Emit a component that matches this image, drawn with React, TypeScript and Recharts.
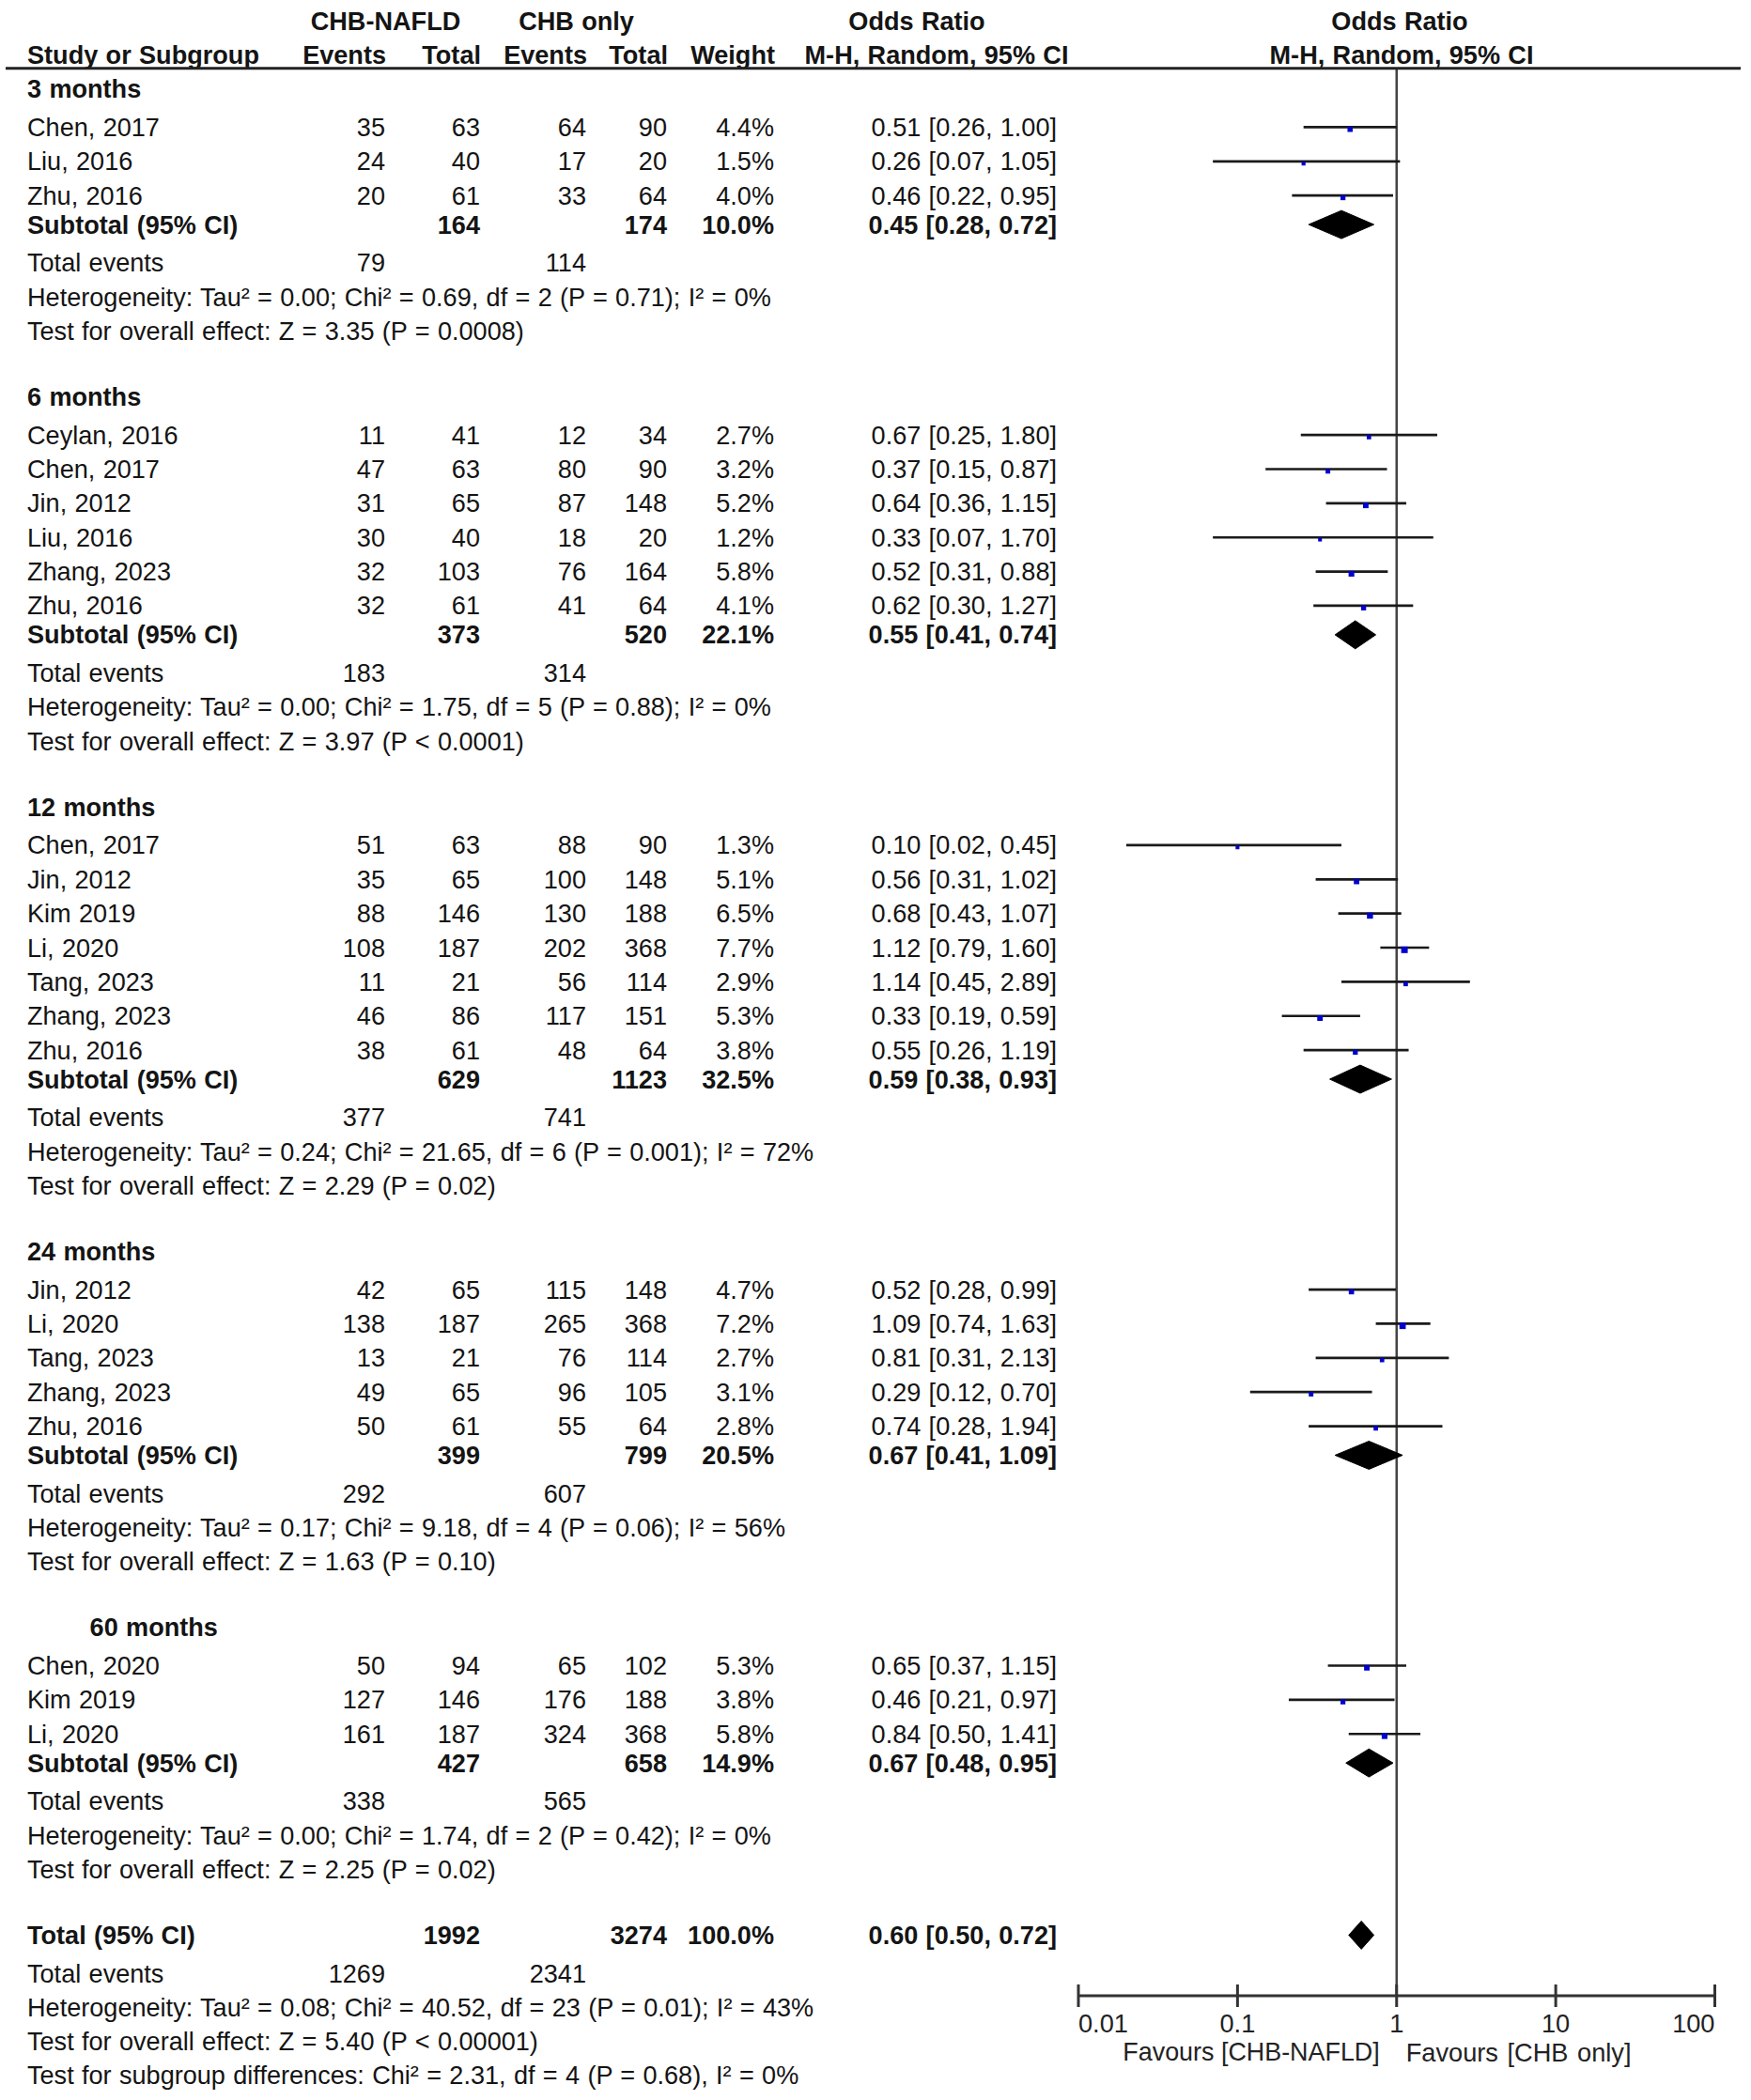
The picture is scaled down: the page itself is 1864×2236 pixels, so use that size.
import { ErrorBar, ReferenceLine, Scatter, ScatterChart, XAxis, YAxis } from "recharts";

// ── Data ─────────────────────────────────────────────────────────────────────
type Study = {
  study: string;
  e1: number;
  n1: number;
  e2: number;
  n2: number;
  w: number;
  or: number;
  lo: number;
  hi: number;
};

const groupLabels = ["3 months", "6 months", "12 months", "24 months", "        60 months"];

const studies3: Study[] = [
  { study: "Chen, 2017", e1: 35, n1: 63, e2: 64, n2: 90, w: 4.4, or: 0.51, lo: 0.26, hi: 1.0 },
  { study: "Liu, 2016", e1: 24, n1: 40, e2: 17, n2: 20, w: 1.5, or: 0.26, lo: 0.07, hi: 1.05 },
  { study: "Zhu, 2016", e1: 20, n1: 61, e2: 33, n2: 64, w: 4.0, or: 0.46, lo: 0.22, hi: 0.95 },
];

const studies6: Study[] = [
  { study: "Ceylan, 2016", e1: 11, n1: 41, e2: 12, n2: 34, w: 2.7, or: 0.67, lo: 0.25, hi: 1.8 },
  { study: "Chen, 2017", e1: 47, n1: 63, e2: 80, n2: 90, w: 3.2, or: 0.37, lo: 0.15, hi: 0.87 },
  { study: "Jin, 2012", e1: 31, n1: 65, e2: 87, n2: 148, w: 5.2, or: 0.64, lo: 0.36, hi: 1.15 },
  { study: "Liu, 2016", e1: 30, n1: 40, e2: 18, n2: 20, w: 1.2, or: 0.33, lo: 0.07, hi: 1.7 },
  { study: "Zhang, 2023", e1: 32, n1: 103, e2: 76, n2: 164, w: 5.8, or: 0.52, lo: 0.31, hi: 0.88 },
  { study: "Zhu, 2016", e1: 32, n1: 61, e2: 41, n2: 64, w: 4.1, or: 0.62, lo: 0.3, hi: 1.27 },
];

const studies12: Study[] = [
  { study: "Chen, 2017", e1: 51, n1: 63, e2: 88, n2: 90, w: 1.3, or: 0.1, lo: 0.02, hi: 0.45 },
  { study: "Jin, 2012", e1: 35, n1: 65, e2: 100, n2: 148, w: 5.1, or: 0.56, lo: 0.31, hi: 1.02 },
  { study: "Kim 2019", e1: 88, n1: 146, e2: 130, n2: 188, w: 6.5, or: 0.68, lo: 0.43, hi: 1.07 },
  { study: "Li, 2020", e1: 108, n1: 187, e2: 202, n2: 368, w: 7.7, or: 1.12, lo: 0.79, hi: 1.6 },
  { study: "Tang, 2023", e1: 11, n1: 21, e2: 56, n2: 114, w: 2.9, or: 1.14, lo: 0.45, hi: 2.89 },
  { study: "Zhang, 2023", e1: 46, n1: 86, e2: 117, n2: 151, w: 5.3, or: 0.33, lo: 0.19, hi: 0.59 },
  { study: "Zhu, 2016", e1: 38, n1: 61, e2: 48, n2: 64, w: 3.8, or: 0.55, lo: 0.26, hi: 1.19 },
];

const studies24: Study[] = [
  { study: "Jin, 2012", e1: 42, n1: 65, e2: 115, n2: 148, w: 4.7, or: 0.52, lo: 0.28, hi: 0.99 },
  { study: "Li, 2020", e1: 138, n1: 187, e2: 265, n2: 368, w: 7.2, or: 1.09, lo: 0.74, hi: 1.63 },
  { study: "Tang, 2023", e1: 13, n1: 21, e2: 76, n2: 114, w: 2.7, or: 0.81, lo: 0.31, hi: 2.13 },
  { study: "Zhang, 2023", e1: 49, n1: 65, e2: 96, n2: 105, w: 3.1, or: 0.29, lo: 0.12, hi: 0.7 },
  { study: "Zhu, 2016", e1: 50, n1: 61, e2: 55, n2: 64, w: 2.8, or: 0.74, lo: 0.28, hi: 1.94 },
];

const studies60: Study[] = [
  { study: "Chen, 2020", e1: 50, n1: 94, e2: 65, n2: 102, w: 5.3, or: 0.65, lo: 0.37, hi: 1.15 },
  { study: "Kim 2019", e1: 127, n1: 146, e2: 176, n2: 188, w: 3.8, or: 0.46, lo: 0.21, hi: 0.97 },
  { study: "Li, 2020", e1: 161, n1: 187, e2: 324, n2: 368, w: 5.8, or: 0.84, lo: 0.5, hi: 1.41 },
];

const groupStudies = [studies3, studies6, studies12, studies24, studies60];

const subtotalN1 = [164, 373, 629, 399, 427];
const subtotalN2 = [174, 520, 1123, 799, 658];
const subtotalW = [10.0, 22.1, 32.5, 20.5, 14.9];
const subtotalOR = [0.45, 0.55, 0.59, 0.67, 0.67];
const subtotalLo = [0.28, 0.41, 0.38, 0.41, 0.48];
const subtotalHi = [0.72, 0.74, 0.93, 1.09, 0.95];
const eventsNafld = [79, 183, 377, 292, 338];
const eventsOnly = [114, 314, 741, 607, 565];

const heterogeneity = [
  "Heterogeneity: Tau² = 0.00; Chi² = 0.69, df = 2 (P = 0.71); I² = 0%",
  "Heterogeneity: Tau² = 0.00; Chi² = 1.75, df = 5 (P = 0.88); I² = 0%",
  "Heterogeneity: Tau² = 0.24; Chi² = 21.65, df = 6 (P = 0.001); I² = 72%",
  "Heterogeneity: Tau² = 0.17; Chi² = 9.18, df = 4 (P = 0.06); I² = 56%",
  "Heterogeneity: Tau² = 0.00; Chi² = 1.74, df = 2 (P = 0.42); I² = 0%",
];
const overallEffect = [
  "Test for overall effect: Z = 3.35 (P = 0.0008)",
  "Test for overall effect: Z = 3.97 (P < 0.0001)",
  "Test for overall effect: Z = 2.29 (P = 0.02)",
  "Test for overall effect: Z = 1.63 (P = 0.10)",
  "Test for overall effect: Z = 2.25 (P = 0.02)",
];

const totalN = [1992, 3274];
const totalW = 100.0;
const totalCI = [0.6, 0.5, 0.72]; // OR, lower, upper
const totalEvents = [1269, 2341];
const totalNotes = [
  "Heterogeneity: Tau² = 0.08; Chi² = 40.52, df = 23 (P = 0.01); I² = 43%",
  "Test for overall effect: Z = 5.40 (P < 0.00001)",
  "Test for subgroup differences: Chi² = 2.31, df = 4 (P = 0.68), I² = 0%",
];

const headerTop = ["CHB-NAFLD", "CHB only", "Odds Ratio", "Odds Ratio"];
const headerBottom = ["Study or Subgroup", "Events", "Total", "Events", "Total", "Weight", "M-H, Random, 95% CI", "M-H, Random, 95% CI"];
const axisTicks = [0.01, 0.1, 1, 10, 100];
const favours = ["Favours [CHB-NAFLD]", "Favours [CHB only]"];

// ── Layout / style ───────────────────────────────────────────────────────────
const W = 1864;
const H = 2236;
const AXIS_Y = 2125;
const ROW_PX = 36.5;
const Y_MAX = AXIS_Y / ROW_PX;
const FONT = "'Liberation Sans', Arial, Helvetica, sans-serif";
const FS = 27.1;
const INK = "#141414";
const BLUE = "#0000cc";
const COLS = [410, 511, 624, 710, 824, 1125]; // right edges: events, total, events, total, weight, OR
const NAME_X = 29;
const DIA_H = 0.41;
// row gaps, in row steps
const K = 0.9964;
const GAP_HEAD = 1.12 * K;
const GAP_STUDY = 1 * K;
const GAP_SUB = 0.85 * K;
const GAP_EVT = 1.12 * K;
const GAP_NOTE = 1 * K;
const GAP_GROUP = 1.92 * K;

const fmtCI = (o: number, l: number, h: number) => `${o.toFixed(2)} [${l.toFixed(2)}, ${h.toFixed(2)}]`;

type Row = { x: number; y: number; kind: string; name?: string; cols?: string[]; bold?: boolean };

const rows: Row[] = [
  { x: 1, y: 0.63, kind: "head1" },
  { x: 1, y: 1.59, kind: "head2" },
  { x: 1, y: 1.99, kind: "rule" },
];
const studyPts: { x: number; y: number; err: number[]; w: number }[] = [];
const diamonds: { or: number; lo: number; hi: number; y: number }[] = [];

let cur = 2.595;
groupStudies.forEach((list, g) => {
  rows.push({ x: 1, y: cur, kind: "text", name: groupLabels[g], bold: true });
  cur += GAP_HEAD;
  list.forEach((s, i) => {
    if (i > 0) cur += GAP_STUDY;
    rows.push({
      x: 1,
      y: cur,
      kind: "text",
      name: s.study,
      cols: [String(s.e1), String(s.n1), String(s.e2), String(s.n2), `${s.w.toFixed(1)}%`, fmtCI(s.or, s.lo, s.hi)],
    });
    studyPts.push({ x: s.or, y: cur, err: [s.or - s.lo, s.hi - s.or], w: s.w });
  });
  cur += GAP_SUB;
  rows.push({
    x: 1,
    y: cur,
    kind: "text",
    bold: true,
    name: "Subtotal (95% CI)",
    cols: ["", String(subtotalN1[g]), "", String(subtotalN2[g]), `${subtotalW[g].toFixed(1)}%`, fmtCI(subtotalOR[g], subtotalLo[g], subtotalHi[g])],
  });
  diamonds.push({ or: subtotalOR[g], lo: subtotalLo[g], hi: subtotalHi[g], y: cur });
  cur += GAP_EVT;
  rows.push({ x: 1, y: cur, kind: "text", name: "Total events", cols: [String(eventsNafld[g]), "", String(eventsOnly[g]), "", "", ""] });
  cur += GAP_NOTE;
  rows.push({ x: 1, y: cur, kind: "text", name: heterogeneity[g] });
  cur += GAP_NOTE;
  rows.push({ x: 1, y: cur, kind: "text", name: overallEffect[g] });
  cur += GAP_GROUP;
});
rows.push({
  x: 1,
  y: cur,
  kind: "text",
  bold: true,
  name: "Total (95% CI)",
  cols: ["", String(totalN[0]), "", String(totalN[1]), `${totalW.toFixed(1)}%`, fmtCI(totalCI[0], totalCI[1], totalCI[2])],
});
diamonds.push({ or: totalCI[0], lo: totalCI[1], hi: totalCI[2], y: cur });
cur += 1.12;
rows.push({ x: 1, y: cur, kind: "footer", name: "Total events", cols: [String(totalEvents[0]), "", String(totalEvents[1]), "", "", ""] });

const diamondPts = diamonds.flatMap((d) => [
  { x: d.lo, y: d.y },
  { x: d.or, y: d.y - DIA_H },
  { x: d.hi, y: d.y },
  { x: d.or, y: d.y + DIA_H },
]);

// ── Marks ────────────────────────────────────────────────────────────────────
function Txt({ x, y, anchor = "start", bold = false, children }: any) {
  return (
    <text
      x={x}
      y={y}
      textAnchor={anchor}
      dominantBaseline="central"
      fontFamily={FONT}
      fontSize={FS}
      fontWeight={bold ? 700 : 400}
      fill={INK}
      style={{ whiteSpace: "pre", wordSpacing: 0.8 }}
    >
      {children}
    </text>
  );
}

function RowText(props: any) {
  const r: Row = props.payload;
  const cy: number = props.cy;
  if (r.kind === "head1") {
    return (
      <g>
        <Txt x={410.5} y={cy} anchor="middle" bold>{headerTop[0]}</Txt>
        <Txt x={613.5} y={cy} anchor="middle" bold>{headerTop[1]}</Txt>
        <Txt x={976} y={cy} anchor="middle" bold>{headerTop[2]}</Txt>
        <Txt x={1490} y={cy} anchor="middle" bold>{headerTop[3]}</Txt>
      </g>
    );
  }
  if (r.kind === "head2") {
    return (
      <g>
        <Txt x={NAME_X} y={cy} bold>{headerBottom[0]}</Txt>
        {COLS.slice(0, 5).map((cx, i) => (
          <Txt key={i} x={cx + 1} y={cy} anchor="end" bold>{headerBottom[i + 1]}</Txt>
        ))}
        <Txt x={997} y={cy} anchor="middle" bold>{headerBottom[6]}</Txt>
        <Txt x={1492} y={cy} anchor="middle" bold>{headerBottom[7]}</Txt>
      </g>
    );
  }
  if (r.kind === "rule") {
    return <line x1={6} x2={1853} y1={cy} y2={cy} stroke="#222" strokeWidth={3} />;
  }
  return (
    <g>
      <Txt x={NAME_X} y={cy} bold={r.bold}>{r.name}</Txt>
      {(r.cols ?? []).map((c, i) =>
        c ? (
          <Txt key={i} x={COLS[i]} y={cy} anchor="end" bold={r.bold}>{c}</Txt>
        ) : null,
      )}
      {r.kind === "footer" &&
        totalNotes.map((t, i) => (
          <Txt key={`n${i}`} x={NAME_X} y={cy + (i + 1) * ROW_PX * 0.99}>{t}</Txt>
        ))}
    </g>
  );
}

function StudyBox(props: any) {
  const s = 3.5 + 0.45 * props.payload.w;
  return <rect x={props.cx - s / 2} y={props.cy + 2.3 - s / 2} width={s} height={s} fill={BLUE} />;
}

function DiamondLine(props: any) {
  const pts = (props.points ?? []) as { x: number; y: number }[];
  const polys = [];
  for (let i = 0; i + 3 < pts.length; i += 4) {
    const q = pts.slice(i, i + 4);
    polys.push(<polygon key={i} points={q.map((v) => `${v.x},${v.y}`).join(" ")} fill="#000" stroke="#000" strokeWidth={1} />);
  }
  return <g>{polys}</g>;
}

function AxisTick(props: any) {
  const { x, y, index, payload } = props;
  const anchor = index === 0 ? "start" : index === axisTicks.length - 1 ? "end" : "middle";
  const txt = { fontFamily: FONT, fill: "#222", dominantBaseline: "central" as const };
  return (
    <g>
      <line x1={x} x2={x} y1={y - 12} y2={y + 12} stroke="#333" strokeWidth={3} />
      <text x={x} y={y + 29} textAnchor={anchor} fontSize={27.2} {...txt}>{String(payload.value)}</text>
      {payload.value === 1 && (
        <>
          <text x={x - 18} y={y + 60} textAnchor="end" fontSize={26.9} {...txt}>{favours[0]}</text>
          <text x={x + 10} y={y + 60} textAnchor="start" fontSize={27.2} style={{ wordSpacing: 2 }} {...txt}>{favours[1]}</text>
        </>
      )}
    </g>
  );
}

export default function App() {
  return (
    <div style={{ position: "absolute", left: 0, top: 0, width: W, height: H, background: "#fff" }}>
      <ScatterChart width={W} height={H} margin={{ top: 0, right: 38.5, bottom: 0, left: 1148 }}>
        <XAxis
          type="number"
          dataKey="x"
          scale="log"
          domain={[0.01, 100]}
          ticks={axisTicks}
          interval={0}
          height={H - AXIS_Y}
          tickSize={0}
          tickMargin={0}
          tickLine={false}
          axisLine={{ stroke: "#333", strokeWidth: 3 }}
          tick={<AxisTick />}
        />
        <YAxis type="number" dataKey="y" domain={[0, Y_MAX]} reversed hide width={0} />
        <ReferenceLine
          segment={[
            { x: 1, y: 1.99 },
            { x: 1, y: Y_MAX },
          ]}
          stroke="#444"
          strokeWidth={2.5}
        />
        <Scatter data={rows} fill="none" shape={<RowText />} isAnimationActive={false} />
        <Scatter data={studyPts} fill={BLUE} shape={<StudyBox />} isAnimationActive={false}>
          <ErrorBar dataKey="err" direction="x" width={0} stroke="#1a1a1a" strokeWidth={2.7} />
        </Scatter>
        <Scatter
          data={diamondPts}
          fill="#000"
          shape={() => <g />}
          line={(p: any) => <DiamondLine {...p} />}
          lineJointType="joint"
          isAnimationActive={false}
        />
      </ScatterChart>
    </div>
  );
}
